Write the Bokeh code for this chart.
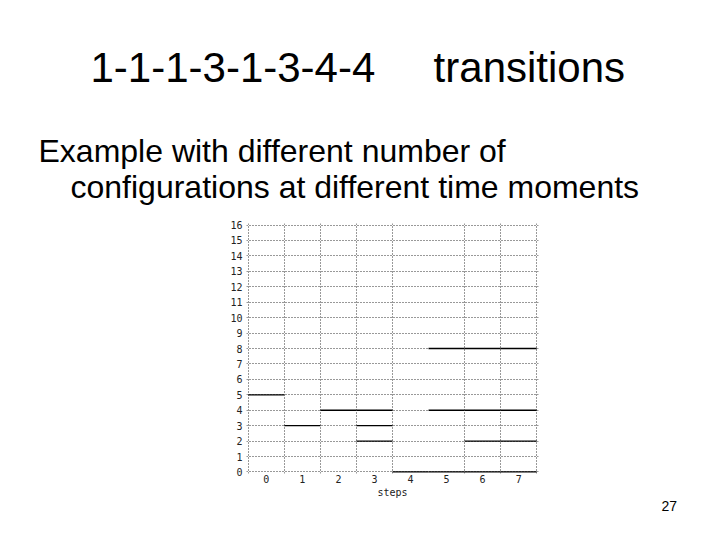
from bokeh.plotting import figure
from bokeh.models import Range1d, FixedTicker, Title
from bokeh.embed import file_html
from bokeh.resources import INLINE

# ---- data ----
steps = [0, 1, 2, 3, 4, 5, 6, 7]
# configurations present at each step (one horizontal line per configuration)
configs = [
    [5],
    [3],
    [4],
    [4, 3, 2],
    [0],
    [8, 4, 0],
    [8, 4, 2, 0],
    [8, 4, 2, 0],
]
y_ticks = list(range(0, 17))
x_ticks = steps
separators = [-0.5, 0.5, 1.5, 2.5, 3.5, 5.5, 6.5, 7.5]

title_text = "1-1-1-3-1-3-4-4" + "\u00a0" * 5 + "transitions"
subtitle_1 = "Example with different number of"
subtitle_2 = "configurations at different time moments"
page_number = "27"

# ---- build segments ----
x0, x1, yv = [], [], []
for s, vals in zip(steps, configs):
    for v in vals:
        x0.append(s - 0.5)
        x1.append(s + 0.5)
        yv.append(v)

p = figure(width=704, height=524, output_backend="svg", toolbar_location=None,
           title=None,
           x_range=Range1d(-0.55, 7.55), y_range=Range1d(-0.1, 16.1),
           min_border_left=246, min_border_right=166,
           min_border_top=223, min_border_bottom=51)
p.outline_line_color = None
p.background_fill_color = "white"
p.border_fill_color = "white"

mono = "DejaVu Sans Mono"

# axes
p.xaxis.ticker = FixedTicker(ticks=x_ticks)
p.yaxis.ticker = FixedTicker(ticks=y_ticks)
for ax in (p.xaxis[0], p.yaxis[0]):
    ax.axis_line_color = None
    ax.major_tick_line_color = None
    ax.minor_tick_line_color = None
    ax.major_tick_in = 0
    ax.major_tick_out = 0
    ax.major_label_text_font = mono
    ax.major_label_text_font_size = "10px"
    ax.major_label_text_color = "#222222"
p.xaxis.major_label_standoff = 1
p.yaxis.major_label_standoff = 4
p.xaxis.axis_label = "steps"
p.xaxis.axis_label_text_font = mono
p.xaxis.axis_label_text_font_size = "10px"
p.xaxis.axis_label_text_font_style = "normal"
p.xaxis.axis_label_text_color = "#222222"
p.xaxis.axis_label_standoff = 1

# grids
p.ygrid.ticker = FixedTicker(ticks=y_ticks)
p.ygrid.grid_line_color = "#333333"
p.ygrid.grid_line_dash = "1 2"
p.ygrid.grid_line_width = 1
p.xgrid.ticker = FixedTicker(ticks=separators)
p.xgrid.grid_line_color = "#333333"
p.xgrid.grid_line_dash = "1 2"
p.xgrid.grid_line_width = 1

# data lines
p.segment(x0=x0, y0=yv, x1=x1, y1=yv, line_color="black", line_width=1.3)

# slide texts as titles around the plot frame
sans = "Liberation Sans"
def title(text, size, offset, place, standoff, valign="bottom"):
    t = Title(text=text, text_font=sans, text_font_size=size, text_font_style="normal",
              text_color="black", align="left", offset=offset, standoff=standoff,
              vertical_align=valign)
    p.add_layout(t, place)

# nearest to the frame first
title(subtitle_1 + "\n\u2003" + subtitle_2, "32px", -208, "above", 38)
title(title_text, "42px", -156, "above", 42)
title(page_number, "14px", 415, "below", 0, valign="top")

open("out.html", "w").write(file_html(p, INLINE))
